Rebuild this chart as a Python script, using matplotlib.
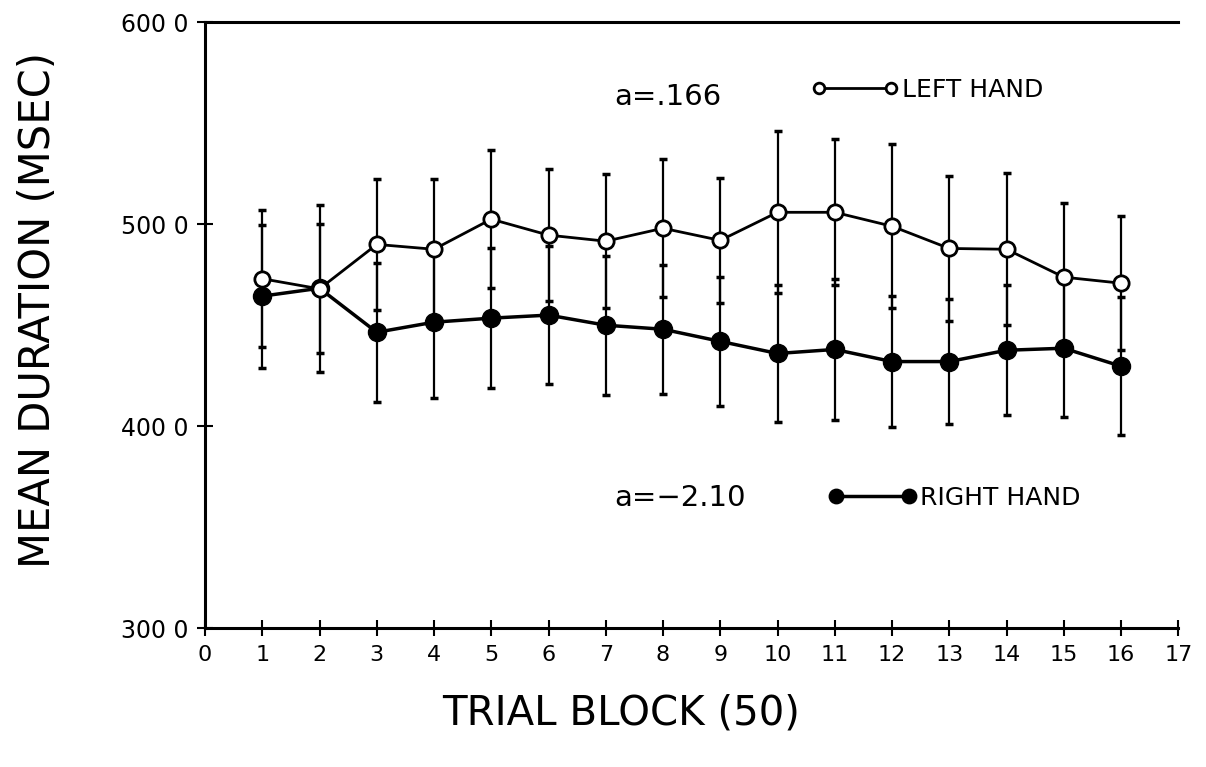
import matplotlib
matplotlib.use("Agg")
import matplotlib.pyplot as plt

# trial blocks 1..16
blocks = list(range(1, 17))

# left hand (open circles): means and half-widths of the error bars
left_mean = [473, 468, 490, 487.6, 502.5, 494.6, 491.6, 498, 492, 505.9, 505.9, 499, 488, 487.6, 473.8, 470.8]
left_err = [34, 32, 32.3, 34.7, 34.1, 32.6, 33.2, 34.2, 30.8, 40.1, 36.1, 40.6, 35.8, 37.6, 36.8, 33.3]

# right hand (filled circles)
right_mean = [464.4, 468.3, 446.5, 451.5, 453.5, 455, 450, 448, 442, 436, 438, 432, 432, 437.6, 438.6, 429.7]
right_err = [35.4, 41.3, 34.5, 37.5, 34.5, 34, 34.5, 32, 32, 34, 35, 32.5, 31, 32.2, 34.1, 34.2]

x_ticks = list(range(0, 18))
y_ticks = [300, 400, 500, 600]
y_tick_labels = ["300 0", "400 0", "500 0", "600 0"]

plt.rcParams["font.family"] = ["DejaVu Sans"]

fig = plt.figure(figsize=(12.06, 7.67), dpi=100)
ax = fig.add_axes([0.170, 0.181, 0.807, 0.790])

err_kw = dict(ecolor="black", elinewidth=1.6, capsize=3, capthick=2.5)

ax.errorbar(blocks, right_mean, yerr=right_err, fmt="none", zorder=2, **err_kw)
ax.errorbar(blocks, left_mean, yerr=left_err, fmt="none", zorder=2, **err_kw)

right_line, = ax.plot(blocks, right_mean, color="black", lw=2.5, marker="o",
                      markersize=13, markerfacecolor="black", markeredgecolor="black",
                      zorder=3)
left_line, = ax.plot(blocks, left_mean, color="black", lw=2.0, marker="o",
                     markersize=11, markerfacecolor="white", markeredgecolor="black",
                     markeredgewidth=2, zorder=4)

ax.set_xlim(0, 17)
ax.set_ylim(300, 600)
ax.set_xticks(x_ticks)
ax.set_xticklabels([str(v) for v in x_ticks], fontsize=16)
ax.set_yticks(y_ticks)
ax.set_yticklabels(y_tick_labels, fontsize=17)
ax.tick_params(axis="both", direction="inout", length=12, width=1.5, colors="black")
ax.tick_params(axis="x", pad=6)
ax.tick_params(axis="y", pad=6)

for side in ["left", "bottom", "top"]:
    ax.spines[side].set_linewidth(2.2)
ax.spines["right"].set_visible(False)

ax.set_xlabel("TRIAL BLOCK (50)", fontsize=29)
ax.xaxis.set_label_coords(0.427, -0.108)
ax.set_ylabel("MEAN DURATION (MSEC)", fontsize=30)
ax.yaxis.set_label_coords(-0.150, 0.525)

# slope annotations
ax.text(7.15, 563, "a=.166", fontsize=21, ha="left", va="center")
ax.text(7.15, 364.4, "a=\u22122.10", fontsize=21, ha="left", va="center")

# legends: marker - line - marker, then label
leg1 = ax.legend([left_line], ["LEFT HAND"], loc="center left", bbox_to_anchor=(0.610, 0.888),
                 frameon=False, numpoints=2, handlelength=3.5, handletextpad=0.15,
                 fontsize=18, borderpad=0, markerscale=0.7)
ax.add_artist(leg1)
ax.legend([right_line], ["RIGHT HAND"], loc="center left", bbox_to_anchor=(0.628, 0.2145),
          frameon=False, numpoints=2, handlelength=3.5, handletextpad=0.15,
          fontsize=18, borderpad=0, markerscale=0.8)

fig.savefig("out.png", dpi=100)
